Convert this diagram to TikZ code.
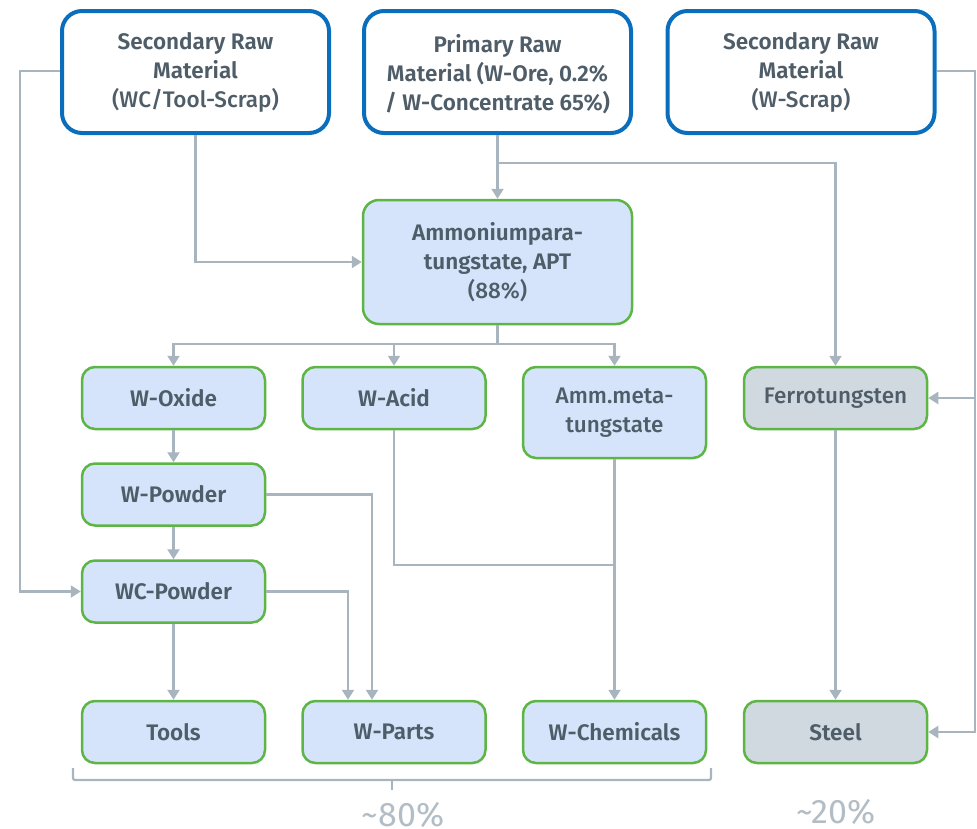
\documentclass[tikz,border=0pt]{standalone}
\usepackage{fontspec}
\setmainfont{Fira Sans}
\newfontfamily\sbfont{Fira Sans SemiBold}
\newfontfamily\medfont{Fira Sans Medium}
\newcommand\lightpart{\medfont\mdseries}
\usetikzlibrary{arrows.meta,calc}
\definecolor{bblue}{HTML}{0A6EBD}
\definecolor{ggreen}{HTML}{5DB545}
\definecolor{lblue}{HTML}{D6E4FB}
\definecolor{lgray}{HTML}{D1D9E0}
\definecolor{lnc}{HTML}{A8B4BE}
\definecolor{txc}{HTML}{4E5D68}
\definecolor{pct}{HTML}{B3BDC5}
\tikzset{
  base/.style={align=center, text=txc, font=\fontsize{22.5}{29}\selectfont\sbfont, inner sep=0pt},
  topbox/.style={base, draw=bblue, line width=4pt, fill=white, rounded corners=20pt,
     minimum width=267pt, minimum height=122pt},
  gbox/.style={base, draw=ggreen, line width=2.5pt, fill=lblue, rounded corners=13pt,
     minimum width=183pt, minimum height=62pt},
  graybox/.style={gbox, fill=lgray},
  conn/.style={draw=lnc, line width=2.2pt},
  arr/.style={conn, -{Triangle[length=10pt,width=12pt]}},
  pctlab/.style={text=pct, font=\fontsize{34}{36}\selectfont, inner sep=0pt}
}
\begin{document}
\begin{tikzpicture}[x=1pt,y=-1pt]
\useasboundingbox (0,0) rectangle (977,828);
% top boxes
\node[topbox] (sl) at (195.5,72) {Secondary Raw\\Material\\\lightpart(WC/Tool-Scrap)};
\node[topbox, text depth=0pt] (pr) at (497.5,72) {Primary Raw\\Material (W-Ore, 0.2\%\\/ W-Concentrate 65\%)};
\node[topbox] (sr) at (801,72) {Secondary Raw\\Material\\\lightpart(W-Scrap)};
% APT
\node[gbox, minimum width=269pt, minimum height=124pt, rounded corners=16pt] (apt) at (497.5,262) {Ammoniumpara-\\tungstate, APT\\\lightpart(88\%)};
% middle row
\node[gbox] (ox) at (173.5,398) {W-Oxide};
\node[gbox] (ac) at (394,398) {W-Acid};
\node[gbox, minimum height=91pt] (am) at (614.5,412.5) {\lightpart Amm.meta-\\\lightpart tungstate};
\node[graybox] (fe) at (835.5,398) {\lightpart Ferrotungsten};
\node[gbox] (wp) at (173.5,494.5) {W-Powder};
\node[gbox] (wc) at (173.5,591.5) {WC-Powder};
% bottom row
\node[gbox] (to) at (173.5,732) {Tools};
\node[gbox] (wpa) at (394,732) {W-Parts};
\node[gbox] (ch) at (614.5,732) {W-Chemicals};
\node[graybox] (st) at (835.5,732) {Steel};
% connectors
\coordinate (ll) at (20,71);
\draw[arr] (sl.west |- ll) -- (ll) |- (wc.west);
\draw[arr] (sl.south) |- (apt.west);
\draw[arr] (pr.south) -- (apt.north);
\coordinate (j1) at (497.5,163);
\draw[arr] (j1) -| (fe.north);
\coordinate (rr) at (975,71);
\draw[arr] (sr.east |- rr) -- (rr) |- (fe.east);
\draw[arr] (rr |- fe.east) |- (st.east);
\coordinate (j2) at (497.5,344);
\draw[conn] (apt.south) -- (j2);
\draw[arr] (j2) -| (ox.north);
\draw[arr] (j2) -| (am.north);
\draw[arr] (ac.north |- j2) -- (ac.north);
\draw[arr] (ox.south) -- (wp.north);
\draw[arr] (wp.south) -- (wc.north);
\draw[arr] (wc.south) -- (to.north);
\draw[arr] (wp.east) -| ($(wpa.north)+(-22,0)$);
\draw[arr] (wc.east) -| ($(wpa.north)+(-46,0)$);
\coordinate (j3) at (614.5,565);
\draw[conn] (ac.south) |- (j3);
\draw[arr] (am.south) -- (ch.north);
\draw[arr] (fe.south) -- (st.north);
% brace
\draw[conn, rounded corners=2pt] (73,768) -- (73,780) -- (711,780) -- (711,768);
\draw[conn] (392,780) -- (392,790);
\node[pctlab] (p80) at (403,815) {\textasciitilde 80\%};
\node[pctlab] (p20) at (836,812) {\textasciitilde 20\%};
\end{tikzpicture}
\end{document}
